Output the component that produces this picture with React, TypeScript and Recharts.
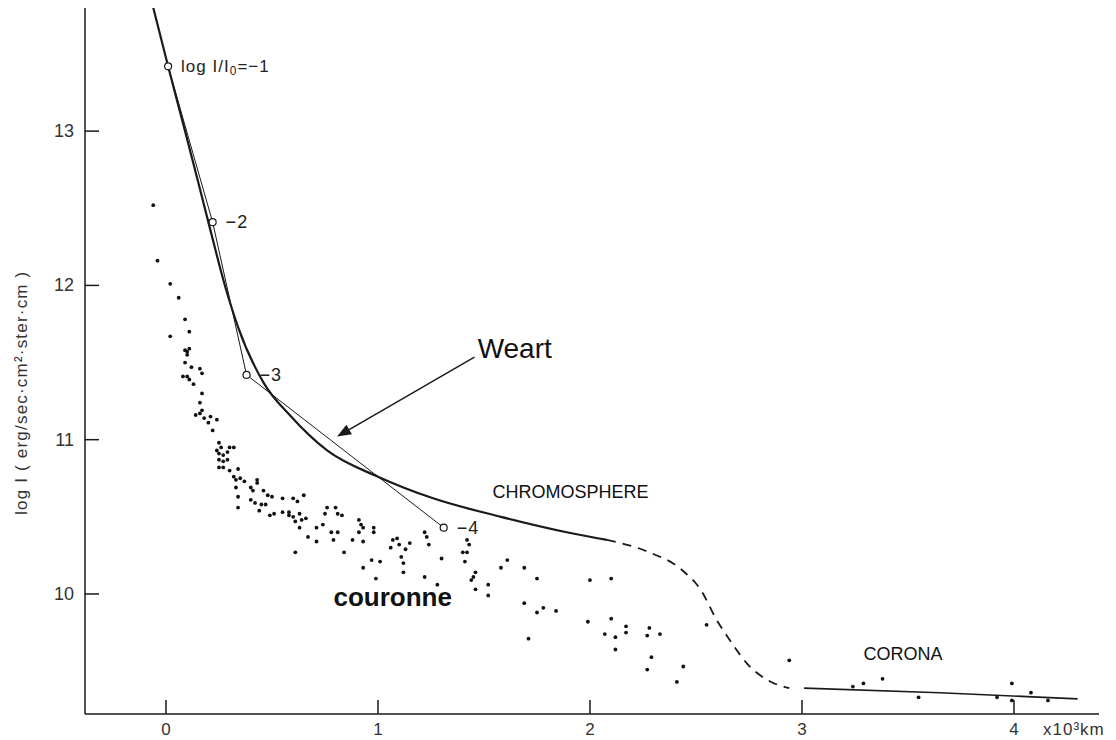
import React from 'react';
import { ComposedChart, XAxis, YAxis, Line, Scatter, ReferenceDot, ReferenceLine } from 'recharts';

const FONT = "'Liberation Sans', Arial, sans-serif";

// axis ticks
const xTicks = [0, 1, 2, 3, 4];
const yTicks = [10, 11, 12, 13];
const xDomain = [-0.382, 4.401];
const yDomain = [9.222, 13.798];

// model curve (solid, chromosphere)
const chromosphere = [
  [-0.06, 13.8], [0.01, 13.42], [0.09, 13.0], [0.15, 12.68], [0.2, 12.41], [0.28, 11.99],
  [0.34, 11.73], [0.46, 11.37], [0.59, 11.15], [0.76, 10.93], [1.0, 10.76], [1.26, 10.62],
  [1.58, 10.5], [1.89, 10.4], [2.08, 10.35],
].map(([x, y]) => ({ x, y }));

// transition (dashed)
const transition = [
  [2.08, 10.35], [2.28, 10.27], [2.43, 10.16], [2.53, 10.01], [2.59, 9.85], [2.67, 9.68],
  [2.74, 9.55], [2.84, 9.44], [2.94, 9.39],
].map(([x, y]) => ({ x, y }));

// corona (solid)
const corona = [[3.01, 9.39], [3.65, 9.36], [4.3, 9.32]].map(([x, y]) => ({ x, y }));

// Weart polyline with log I/I0 levels
const weart = [[0.01, 13.42], [0.22, 12.41], [0.38, 11.42], [1.31, 10.43]].map(([x, y]) => ({ x, y }));
const weartLevels = [-1, -2, -3, -4];

// observed points (couronne)
const observed = [
  [-0.06, 12.52], [-0.04, 12.16], [0.02, 12.01], [0.06, 11.92], [0.09, 11.78], [0.11, 11.7],
  [0.02, 11.67], [0.09, 11.58], [0.1, 11.57], [0.1, 11.55], [0.11, 11.59], [0.09, 11.5],
  [0.12, 11.47], [0.16, 11.46], [0.17, 11.43], [0.08, 11.41], [0.1, 11.41], [0.11, 11.39],
  [0.13, 11.36], [0.17, 11.3], [0.16, 11.24], [0.17, 11.19], [0.14, 11.16], [0.16, 11.17],
  [0.18, 11.14], [0.21, 11.15], [0.24, 11.13], [0.2, 11.11], [0.22, 11.06], [0.25, 10.98],
  [0.26, 10.95], [0.3, 10.95], [0.32, 10.95], [0.24, 10.93], [0.25, 10.91], [0.27, 10.9],
  [0.29, 10.92], [0.25, 10.87], [0.27, 10.86], [0.29, 10.87], [0.25, 10.82], [0.27, 10.82],
  [0.3, 10.8], [0.34, 10.81], [0.32, 10.76], [0.33, 10.74], [0.35, 10.75], [0.33, 10.69],
  [0.37, 10.73], [0.4, 10.69], [0.43, 10.74], [0.43, 10.72], [0.41, 10.67], [0.46, 10.67],
  [0.48, 10.64], [0.5, 10.63], [0.55, 10.62], [0.6, 10.62], [0.34, 10.63], [0.65, 10.64],
  [0.34, 10.56], [0.4, 10.61], [0.42, 10.59], [0.45, 10.58], [0.47, 10.58], [0.44, 10.54],
  [0.49, 10.51], [0.51, 10.52], [0.55, 10.53], [0.58, 10.53], [0.58, 10.51], [0.6, 10.5],
  [0.63, 10.52], [0.62, 10.6], [0.61, 10.47], [0.64, 10.48], [0.66, 10.49], [0.63, 10.43],
  [0.76, 10.56], [0.75, 10.52], [0.8, 10.56], [0.81, 10.52], [0.83, 10.51], [0.74, 10.45],
  [0.71, 10.43], [0.78, 10.4], [0.81, 10.4], [0.79, 10.35], [0.67, 10.37], [0.71, 10.34],
  [0.88, 10.35], [0.93, 10.34], [0.91, 10.48], [0.92, 10.45], [0.91, 10.4], [0.93, 10.43],
  [0.98, 10.43], [0.98, 10.4], [0.84, 10.27], [0.61, 10.27], [1.07, 10.35], [1.06, 10.3],
  [1.09, 10.36], [1.1, 10.32], [1.15, 10.33], [1.13, 10.29], [1.11, 10.24], [1.12, 10.2],
  [1.12, 10.14], [0.97, 10.22], [1.01, 10.21], [0.93, 10.17], [0.99, 10.1], [1.22, 10.4],
  [1.23, 10.37], [1.24, 10.32], [1.3, 10.23], [1.22, 10.11], [1.28, 10.06], [1.42, 10.35],
  [1.43, 10.32], [1.42, 10.27], [1.4, 10.27], [1.41, 10.21], [1.46, 10.14], [1.45, 10.11],
  [1.44, 10.09], [1.46, 10.03], [1.52, 10.06], [1.52, 9.99], [1.58, 10.17], [1.61, 10.22],
  [1.69, 10.17], [1.75, 10.1], [1.69, 9.94], [1.75, 9.88], [1.78, 9.91], [1.84, 9.89],
  [1.71, 9.71], [2.0, 10.09], [2.1, 10.1], [1.99, 9.82], [2.1, 9.84], [2.07, 9.74],
  [2.12, 9.72], [2.17, 9.79], [2.17, 9.75], [2.12, 9.64], [2.28, 9.78], [2.27, 9.73],
  [2.33, 9.74], [2.29, 9.59], [2.27, 9.51], [2.44, 9.53], [2.41, 9.43], [2.55, 9.8],
  [2.94, 9.57], [3.24, 9.4], [3.29, 9.42], [3.38, 9.45], [3.55, 9.33], [3.99, 9.42],
  [4.08, 9.36], [3.92, 9.33], [3.99, 9.31], [4.16, 9.31],
].map(([x, y]) => ({ x, y }));

// annotations (data units)
const weartText = { x: 1.47, y: 11.53, text: 'Weart' };
const arrowTail = { x: 1.455, y: 11.535 };
const arrowTip = { x: 0.807, y: 11.02 };
const regionLabels = [
  { x: 1.54, y: 10.62, text: 'CHROMOSPHERE' },
  { x: 3.29, y: 9.57, text: 'CORONA' },
];
const couronneText = { x: 0.79, y: 9.92, text: 'couronne' };

const Y_GAP = 11;
const X_GAP = 15;
const TICK_LEN = 14;
const INK = '#1a1a1a';

function YTick(props: any) {
  const { x, y, payload } = props;
  return (
    <g>
      <line x1={x + Y_GAP} x2={x + Y_GAP + TICK_LEN} y1={y} y2={y} stroke={INK} strokeWidth={1.5} />
      <text x={x} y={y} textAnchor="end" dominantBaseline="central" fontSize={18} fill="#333" fontFamily={FONT}>
        {payload.value}
      </text>
    </g>
  );
}

function XTick(props: any) {
  const { x, y, payload } = props;
  return (
    <g>
      <line x1={x} x2={x} y1={y - X_GAP} y2={y - X_GAP - TICK_LEN} stroke={INK} strokeWidth={1.5} />
      <text x={x} y={y} textAnchor="middle" dominantBaseline="central" fontSize={17} fill="#333" fontFamily={FONT}>
        {payload.value}
      </text>
      {payload.value === xTicks[xTicks.length - 1] && (
        <text x={x + 29} y={y} textAnchor="start" dominantBaseline="central" fontSize={17} fill="#333" fontFamily={FONT} letterSpacing={1}>
          x10³km
        </text>
      )}
    </g>
  );
}

function YLabel(props: any) {
  const vb = props.viewBox || {};
  const cx = (vb.x || 0) + 22;
  const cy = (vb.y || 0) + (vb.height || 0) * 0.545;
  return (
    <text x={cx} y={cy} transform={`rotate(-90 ${cx} ${cy})`} textAnchor="middle" dominantBaseline="central"
      fontSize={17} fill="#333" fontFamily={FONT} letterSpacing={1.2}>
      log I ( erg/sec·cm²·ster·cm )
    </text>
  );
}

function WeartDot(props: any) {
  const { cx, cy, index } = props;
  const level = weartLevels[index];
  return (
    <g key={`wd${index}`}>
      <circle cx={cx} cy={cy} r={3.5} fill="#fff" stroke={INK} strokeWidth={1.2} />
      {index === 0 ? (
        <text x={cx + 13} y={cy} dominantBaseline="central" fontSize={17} fill="#222" fontFamily={FONT} letterSpacing={1}>
          log I/I<tspan fontSize={12} dy={5}>0</tspan><tspan dy={-5}>=−{Math.abs(level)}</tspan>
        </text>
      ) : (
        <text x={cx + 13} y={cy} dominantBaseline="central" fontSize={18} fill="#222" fontFamily={FONT} letterSpacing={1}>
          −{Math.abs(level)}
        </text>
      )}
    </g>
  );
}

function ArrowShape(props: any) {
  const { x1, y1, x2, y2 } = props;
  const dx = x2 - x1;
  const dy = y2 - y1;
  const len = Math.hypot(dx, dy) || 1;
  const ux = dx / len;
  const uy = dy / len;
  const head = 14;
  const half = 5.5;
  const bx = x2 - ux * head;
  const by = y2 - uy * head;
  return (
    <g>
      <line x1={x1} y1={y1} x2={bx} y2={by} stroke={INK} strokeWidth={1.5} />
      <polygon points={`${x2},${y2} ${bx - uy * half},${by + ux * half} ${bx + uy * half},${by - ux * half}`} fill={INK} />
    </g>
  );
}

function textShape(text: string, size: number, weight: string, spacing: number) {
  return (p: any) => (
    <text x={p.cx} y={p.cy} fontSize={size} fontWeight={weight} fill="#111" fontFamily={FONT} letterSpacing={spacing}>
      {text}
    </text>
  );
}

export default function App() {
  return (
    <div style={{ position: 'fixed', left: 0, top: 0, width: 1116, height: 740, background: '#fff' }}>
      <ComposedChart width={1116} height={740} margin={{ top: 8, right: 17, left: 0, bottom: 0 }}>
        <XAxis
          type="number"
          dataKey="x"
          domain={xDomain}
          ticks={xTicks}
          allowDataOverflow
          height={26}
          tickSize={0}
          tickMargin={X_GAP}
          tickLine={false}
          axisLine={{ stroke: INK, strokeWidth: 1.5 }}
          tick={<XTick />}
          interval={0}
        />
        <YAxis
          type="number"
          dataKey="y"
          domain={yDomain}
          ticks={yTicks}
          allowDataOverflow
          width={85}
          tickSize={0}
          tickMargin={Y_GAP}
          tickLine={false}
          axisLine={{ stroke: INK, strokeWidth: 1.5 }}
          tick={<YTick />}
          interval={0}
          label={(p: any) => <YLabel {...p} />}
        />
        <Scatter
          data={observed}
          isAnimationActive={false}
          shape={(p: any) => <circle cx={p.cx} cy={p.cy} r={1.9} fill="#111" />}
        />
        <Line data={chromosphere} dataKey="y" type="monotone" stroke={INK} strokeWidth={2.2} dot={false} activeDot={false} isAnimationActive={false} />
        <Line data={transition} dataKey="y" type="monotone" stroke={INK} strokeWidth={1.8} strokeDasharray="9 7" dot={false} activeDot={false} isAnimationActive={false} />
        <Line data={corona} dataKey="y" type="linear" stroke={INK} strokeWidth={1.6} dot={false} activeDot={false} isAnimationActive={false} />
        <Line data={weart} dataKey="y" type="linear" stroke={INK} strokeWidth={1} dot={(p: any) => <WeartDot key={`wd${p.index}`} {...p} />} activeDot={false} isAnimationActive={false} />
        <ReferenceLine segment={[arrowTail, arrowTip]} shape={(p: any) => <ArrowShape {...p} />} />
        <ReferenceDot x={weartText.x} y={weartText.y} r={0} shape={textShape(weartText.text, 28, 'normal', 0)} />
        <ReferenceDot x={couronneText.x} y={couronneText.y} r={0} shape={textShape(couronneText.text, 26, 'bold', 0)} />
        {regionLabels.map((l) => (
          <ReferenceDot key={l.text} x={l.x} y={l.y} r={0} shape={textShape(l.text, 18, 'normal', 0)} />
        ))}
      </ComposedChart>
    </div>
  );
}
